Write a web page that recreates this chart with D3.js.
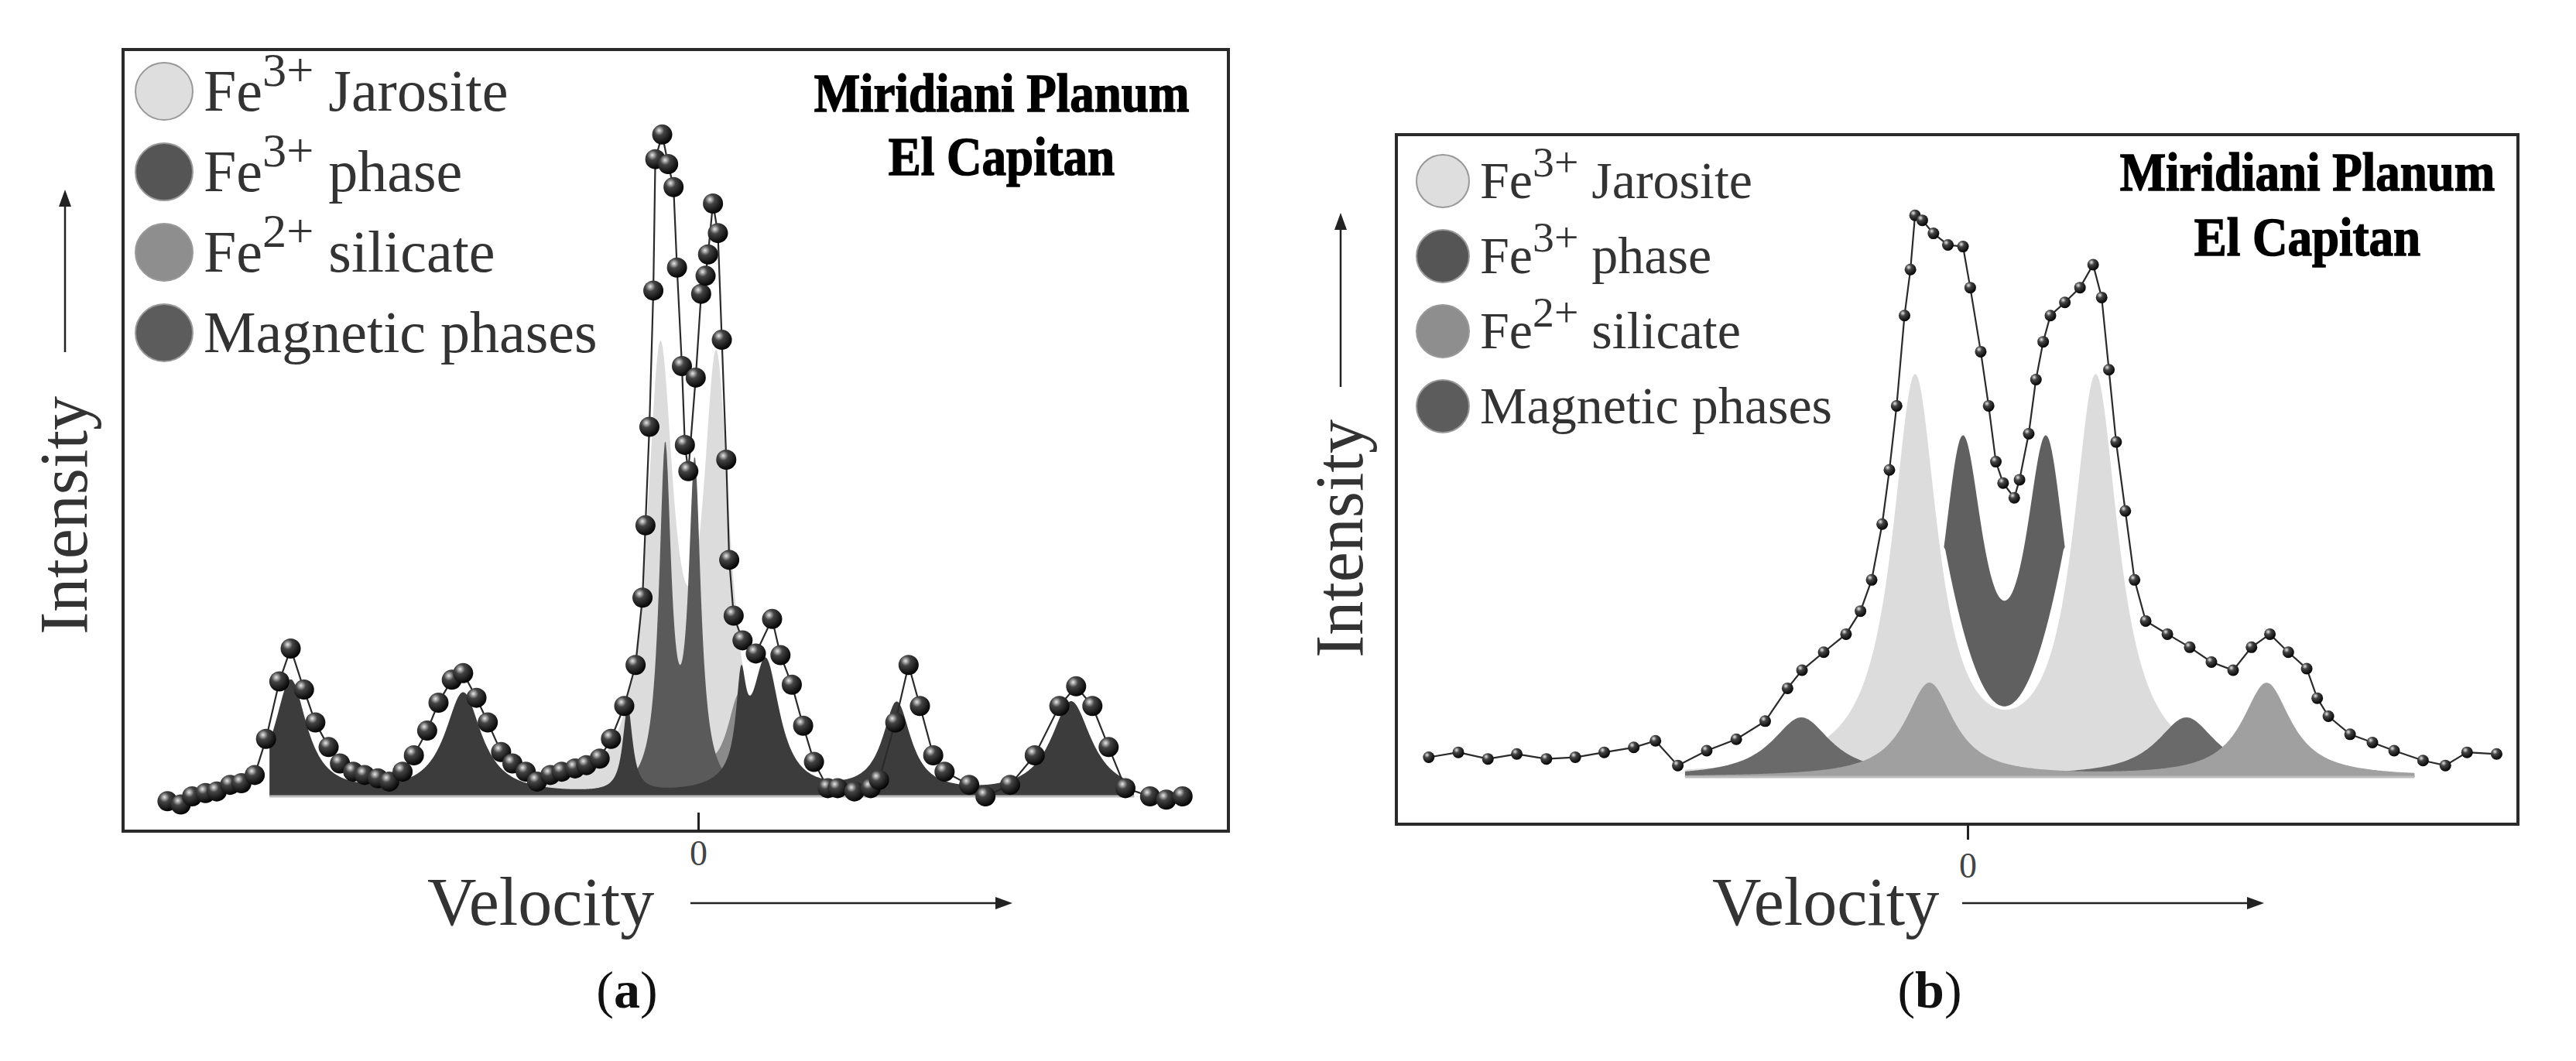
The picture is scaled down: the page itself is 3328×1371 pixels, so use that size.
<!DOCTYPE html>
<html><head><meta charset="utf-8">
<script src="https://cdn.jsdelivr.net/npm/d3@7"></script>
<style>body{margin:0;background:#fff}svg{display:block}</style></head>
<body><svg id="c" width="3328" height="1371"></svg>
<script>
// ---- Panel (a) measured points: velocity (mm/s), intensity (rel.)
const aVel = [-10.77,-10.5,-10.27,-10,-9.77,-9.5,-9.27,-9,-8.77,-8.5,-8.27,-8,-7.77,-7.5,-7.27,-7,-6.77,-6.5,-6.27,-6,-5.77,-5.5,-5.27,-5,-4.77,-4.5,-4.27,-4,-3.77,-3.5,-3.27,-3,-2.77,-2.5,-2.27,-2,-1.77,-1.5,-1.27,-1.13,-1.07,-0.99,-0.91,-0.87,-0.73,-0.61,-0.5,-0.43,-0.33,-0.27,-0.2,-0.05,0.06,0.15,0.2,0.3,0.4,0.48,0.57,0.63,0.72,0.9,1.17,1.5,1.67,1.9,2.13,2.35,2.63,2.83,3.17,3.5,3.67,4,4.27,4.5,4.77,5,5.5,5.83,6.33,6.83,7.33,7.67,8,8.33,8.67,9.17,9.5,9.83];
const aInt = [-3,-5,0,2,3,7,8,13,35,70,90,65,45,30,20,15,13,11,9,15,25,40,57,71,75,60,45,27,20,15,9,13,15,17,19,23,35,55,80,121,165,225,308,388,403,385,371,322,262,214,198,255,306,317,330,361,343,278,205,144,110,95,87,108,86,68,43,21,5,5,3,5,10,45,80,55,25,15,7,0,7,25,55,67,55,30,5,0,-2,0];
// ---- Panel (a) fitted components: centers, heights, half-widths
const aJarC=[-0.77,0.37], aJarH=[258,252], aJarW=[0.33,0.33];
const aSilC=[-0.45,0.85], aSilH=[60,60], aSilW=[0.32,0.32];
const aFe3C=[-0.67,-0.07], aFe3H=[205,195], aFe3W=[0.15,0.15];
const aMagC=[-8.27,-4.77,-1.43,0.87,1.37,4.03,7.57], aMagH=[70,62,52,52,80,55,57], aMagW=[0.4,0.45,0.12,0.12,0.35,0.35,0.5];

// ---- Panel (b) measured points
const bVel = [-8.2,-7.75,-7.3,-6.86,-6.41,-5.97,-5.53,-5.08,-4.75,-4.41,-3.97,-3.52,-3.08,-2.74,-2.52,-2.19,-1.85,-1.63,-1.46,-1.3,-1.19,-1.08,-0.96,-0.87,-0.8,-0.69,-0.52,-0.3,-0.07,0.04,0.2,0.32,0.43,0.54,0.71,0.79,0.93,1.04,1.15,1.26,1.48,1.71,1.91,2.04,2.15,2.26,2.4,2.54,2.71,3.04,3.38,3.71,4.04,4.32,4.6,4.88,5.16,5.32,5.49,5.82,6.16,6.49,6.93,7.27,7.6,8.05];
const bInt = [12,15,11,14,11,12,15,18,22,7,16,23,34,54,65,76,87,101,120,154,187,226,281,309,342,339,331,324,323,298,259,226,192,179,170,181,209,242,265,281,289,298,312,292,248,204,162,120,95,87,79,70,65,79,87,76,66,48,37,26,21,16,10,7,15,14];
const bJarC=[-0.8,1.95], bJarH=[240,240], bJarW=[0.42,0.42];
const bMagC=[-2.53,3.33], bMagH=[36,36], bMagW=[0.55,0.55];
const bSilC=[-0.58,4.55], bSilH=[57,57], bSilW=[0.45,0.45];
const bFe3C=[-0.08,1.2], bFe3H=[191,191], bFe3W=[0.4,0.4], bFe3Floor=43;

const legendNames=[["3+"," Jarosite"],["3+"," phase"],["2+"," silicate"],[null,"Magnetic phases"]];
const legendCols=["#dedede","#555555","#8e8e8e","#5c5c5c"];
const titleLines=["Miridiani Planum","El Capitan"];
const tickVals=[0];

const svg=d3.select("#c");
const defs=svg.append("defs");
const g1=defs.append("radialGradient").attr("id","ball").attr("cx","35%").attr("cy","30%").attr("r","70%");
g1.append("stop").attr("offset","0%").attr("stop-color","#e8e8e8");
g1.append("stop").attr("offset","35%").attr("stop-color","#444");
g1.append("stop").attr("offset","100%").attr("stop-color","#050505");

function lor(C,H,W){return v=>d3.sum(C,(c,i)=>H[i]/(1+((v-c)/W[i])**2));}

function panel(o){
  const x=d3.scaleLinear().domain([0,1]).range([o.x0,o.x0+o.kx]);
  const y=d3.scaleLinear().domain([0,1]).range([o.base,o.base-o.ky]);
  const G=svg.append("g");
  G.append("rect").attr("x",o.fx0).attr("y",o.fy0).attr("width",o.fx1-o.fx0).attr("height",o.fy1-o.fy0)
   .attr("fill","none").attr("stroke","#2a2a2a").attr("stroke-width",4);
  const grid=d3.range(o.vmin,o.vmax+1e-9,0.02);
  o.comps.forEach(c=>{
    const f=lor(c.C,c.H,c.W);
    const low=c.floor!=null?(v=>{const m=(c.C[0]+c.C[1])/2;return Math.min(f(v),c.floor+118*(v-m)**2);}):(v=>0);
    G.append("path").datum(grid).attr("fill",c.col)
     .attr("d",d3.area().x(v=>x(v)).y0(v=>y(low(v))).y1(v=>y(f(v))));
  });
  G.append("line").attr("x1",x(o.vmin)).attr("x2",x(o.vmax)).attr("y1",o.base).attr("y2",o.base).attr("stroke","#bbb").attr("stroke-width",3);
  const pts=o.vel.map((v,i)=>[v,o.int[i]]);
  G.append("path").datum(pts).attr("fill","none").attr("stroke","#2a2a2a").attr("stroke-width",2.2)
   .attr("d",d3.line().x(d=>x(d[0])).y(d=>y(d[1])));
  G.selectAll("circle.p").data(pts).join("circle").attr("class","p")
   .attr("cx",d=>x(d[0])).attr("cy",d=>y(d[1])).attr("r",o.r).attr("fill","url(#ball)");
  const ax=G.append("g").attr("transform",`translate(0,${o.tickY})`)
    .call(d3.axisBottom(x).tickValues(tickVals).tickSize(o.tickLen).tickFormat(d3.format("d")));
  ax.select(".domain").remove();
  ax.selectAll("line").attr("stroke","#222").attr("stroke-width",3);
  ax.selectAll("text").attr("font-family","Liberation Serif").attr("font-size",46).attr("fill","#444").attr("dy",o.tickDy);
  legendNames.forEach((n,i)=>{
    const cy=o.ly+i*o.lstep;
    G.append("circle").attr("cx",o.lx).attr("cy",cy).attr("r",o.lr).attr("fill",legendCols[i]).attr("stroke","#999").attr("stroke-width",2);
    const t=G.append("text").attr("x",o.lx+o.lr+14).attr("y",cy+o.lfs*0.33).attr("font-family","Liberation Serif")
      .attr("font-size",o.lfs).attr("fill","#333");
    if(n[0]){t.append("tspan").text("Fe");t.append("tspan").attr("dy",-o.lfs*0.42).attr("font-size",o.lfs*0.82).text(n[0]);
      t.append("tspan").attr("dy",o.lfs*0.42).text(n[1]);}
    else t.text(n[1]);
  });
  titleLines.forEach((s,i)=>G.append("text").attr("x",o.tx).attr("y",o.ty+i*o.tstep).attr("text-anchor","middle")
    .attr("font-family","Liberation Serif").attr("font-weight","bold").attr("font-size",o.tfs).attr("stroke","#000").attr("stroke-width",1.5)
    .attr("transform",`translate(${o.tx},0) scale(0.9,1) translate(${-o.tx},0)`).text(s));
  G.append("text").attr("transform",`translate(${o.iX},${o.iY}) rotate(-90)`).attr("font-family","Liberation Serif")
   .attr("font-size",88).attr("fill","#333").text("Intensity");
  G.append("line").attr("x1",o.iX-28).attr("x2",o.iX-28).attr("y1",o.iA0).attr("y2",o.iA1+14).attr("stroke","#222").attr("stroke-width",2.5);
  G.append("path").attr("d",`M${o.iX-28},${o.iA1} l-8,22 l16,0 z`).attr("fill","#222");
  G.append("text").attr("x",o.vX).attr("y",o.vY).attr("font-family","Liberation Serif").attr("font-size",88).attr("fill","#333").text("Velocity");
  G.append("line").attr("x1",o.vA0).attr("x2",o.vA1-14).attr("y1",o.vY-28).attr("y2",o.vY-28).attr("stroke","#222").attr("stroke-width",2.5);
  G.append("path").attr("d",`M${o.vA1},${o.vY-28} l-22,-8 l0,16 z`).attr("fill","#222");
  G.append("text").attr("x",o.capX).attr("y",1302).attr("text-anchor","middle").attr("font-family","Liberation Serif")
   .attr("font-size",68).attr("fill","#111").html(o.cap);
}

panel({fx0:159,fy0:64,fx1:1587,fy1:1074,x0:902,kx:63.66,base:1029,ky:2.122,vel:aVel,int:aInt,r:13,
  vmin:-8.7,vmax:8.85,tickY:1050,tickLen:24,tickDy:"0.9em",
  comps:[{C:aJarC,H:aJarH,W:aJarW,col:"#dcdcdc"},{C:aSilC,H:aSilH,W:aSilW,col:"#8a8a8a"},
         {C:aFe3C,H:aFe3H,W:aFe3W,col:"#5a5a5a"},{C:aMagC,H:aMagH,W:aMagW,col:"#3c3c3c"}],
  lx:212,ly:118,lstep:104,lr:37,lfs:76,tx:1294,ty:144,tstep:82,tfs:70,
  iX:112,iY:820,iA0:455,iA1:245,vX:552,vY:1195,vA0:892,vA1:1308,capX:810,cap:"(<tspan font-weight='bold'>a</tspan>)"});

panel({fx0:1804,fy0:174,fx1:3253,fy1:1065,x0:2542,kx:84.9,base:1004,ky:2.122,vel:bVel,int:bInt,r:7.5,
  vmin:-4.3,vmax:6.8,tickY:1065,tickLen:20,tickDy:"1.0em",
  comps:[{C:bJarC,H:bJarH,W:bJarW,col:"#dcdcdc"},{C:bMagC,H:bMagH,W:bMagW,col:"#6a6a6a"},
         {C:bSilC,H:bSilH,W:bSilW,col:"#a0a0a0"},{C:bFe3C,H:bFe3H,W:bFe3W,col:"#606060",floor:bFe3Floor}],
  lx:1864,ly:234,lstep:97,lr:34,lfs:68,tx:2981,ty:246,tstep:84,tfs:70,
  iX:1760,iY:850,iA0:500,iA1:275,vX:2212,vY:1195,vA0:2535,vA1:2925,capX:2493,cap:"(<tspan font-weight='bold'>b</tspan>)"});
</script></body></html>
